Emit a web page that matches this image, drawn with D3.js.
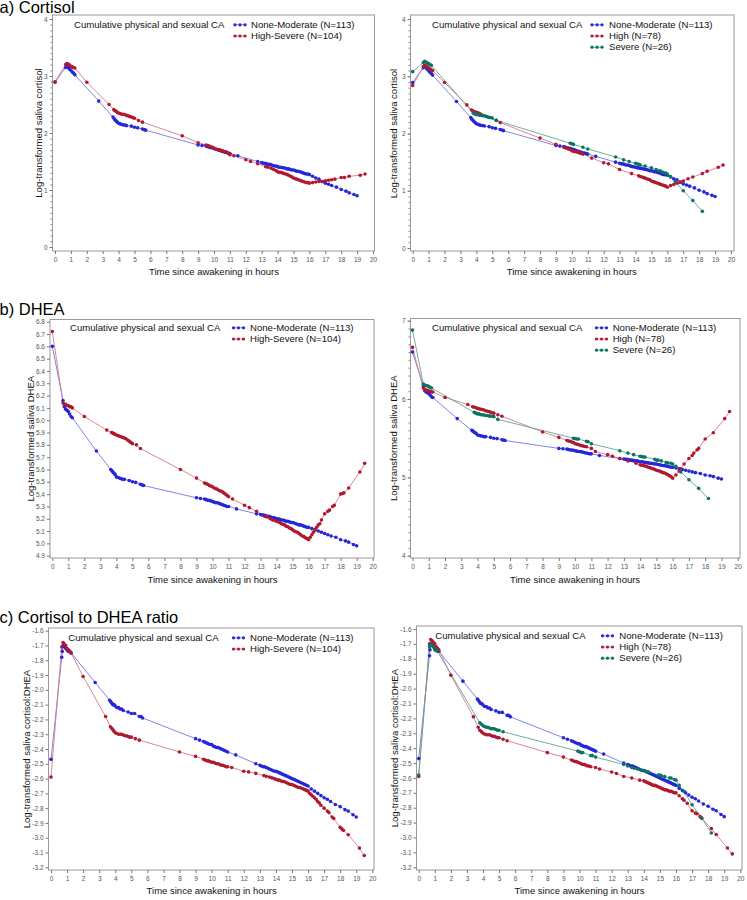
<!DOCTYPE html>
<html><head><meta charset="utf-8">
<script src="https://cdn.jsdelivr.net/npm/d3@7/dist/d3.min.js"></script>
<style>
body{margin:0;background:#fff;}
svg{display:block;font-family:"Liberation Sans",Arial,sans-serif;}
</style></head>
<body><svg id="c" width="747" height="900"></svg>
<script>
// ---------- tick labels ----------
const hourTicks = [0,1,2,3,4,5,6,7,8,9,10,11,12,13,14,15,16,17,18,19,20];
const cortisolTicks = [0,1,2,3,4];
const dheaTicksLeft = [4.9,5.0,5.1,5.2,5.3,5.4,5.5,5.6,5.7,5.8,5.9,6.0,6.1,6.2,6.3,6.4,6.5,6.6,6.7,6.8];
const dheaTicksRight = [4,5,6,7];
const ratioTicks = [-1.6,-1.7,-1.8,-1.9,-2.0,-2.1,-2.2,-2.3,-2.4,-2.5,-2.6,-2.7,-2.8,-2.9,-3.0,-3.1,-3.2];

// ---------- series labels ----------
const groupTitle = "Cumulative physical and sexual CA";
const labelNM = "None-Moderate (N=113)";
const labelHS = "High-Severe (N=104)";
const labelHigh = "High (N=78)";
const labelSevere = "Severe (N=26)";

// ---------- a) Cortisol ----------
const cortisolNM = [[0,2.89],[0.67,3.15],[0.75,3.17],[0.83,3.15],[0.92,3.12],[1.0,3.10],[1.08,3.07],[1.17,3.05],[1.25,3.02],
[2.75,2.56],
[3.65,2.28],[3.72,2.25],[3.78,2.23],[3.85,2.21],[3.92,2.19],[4.0,2.17],[4.1,2.16],[4.2,2.15],[4.3,2.14],[4.4,2.14],[4.5,2.13],[4.8,2.12],[5.0,2.10],[5.2,2.09],[5.5,2.07],[5.6,2.06],[5.7,2.05],
[9.0,1.79],[9.25,1.78],[9.5,1.77],[9.6,1.76],[9.7,1.75],[9.8,1.74],[9.9,1.74],[10.0,1.73],[10.1,1.72],[10.2,1.71],[10.3,1.70],[10.4,1.69],[10.5,1.68],[10.6,1.67],[10.7,1.66],[10.8,1.66],[10.9,1.65],[11.0,1.64],
[11.5,1.60],
[12.75,1.50],[13.0,1.48],[13.1,1.47],[13.2,1.47],[13.3,1.46],[13.4,1.45],[13.5,1.45],[13.6,1.44],[13.7,1.43],[13.8,1.42],[13.9,1.42],[14.0,1.41],[14.1,1.40],[14.2,1.40],[14.3,1.39],[14.4,1.39],[14.5,1.38],[14.6,1.37],[14.7,1.37],[14.8,1.36],[14.9,1.35],[15.0,1.35],[15.1,1.34],[15.2,1.33],[15.3,1.33],[15.4,1.32],[15.5,1.31],[15.6,1.30],[15.7,1.29],[15.8,1.28],[15.9,1.28],[16.0,1.27],
[16.2,1.24],[16.4,1.21],[16.6,1.19],[16.8,1.15],[17.0,1.12],[17.2,1.10],[17.4,1.08],[17.7,1.05],[18.0,1.01],[18.3,0.98],[18.5,0.95],[18.8,0.92],[19.0,0.90]];

const cortisolHS = [[0,2.90],[0.67,3.20],[0.75,3.22],[0.83,3.21],[0.92,3.19],[1.0,3.17],[1.08,3.16],[1.17,3.15],[1.25,3.14],
[2.0,2.89],[3.4,2.50],
[3.7,2.41],[3.78,2.39],[3.85,2.38],[3.92,2.36],[4.0,2.35],[4.1,2.34],[4.2,2.33],[4.3,2.33],[4.4,2.32],[4.5,2.31],[4.6,2.30],[4.7,2.29],[4.8,2.28],[4.9,2.27],[5.0,2.26],[5.25,2.22],[5.5,2.19],
[8.0,1.95],[9.0,1.83],
[9.5,1.79],[9.6,1.78],[9.7,1.77],[9.8,1.76],[9.9,1.75],[10.0,1.73],[10.1,1.72],[10.2,1.71],[10.3,1.70],[10.4,1.70],[10.5,1.69],[10.6,1.68],[10.7,1.67],[10.8,1.66],[10.9,1.64],[11.0,1.62],[11.25,1.60],
[12.0,1.53],[12.3,1.50],[12.75,1.46],
[13.25,1.41],[13.4,1.40],[13.6,1.38],[13.75,1.36],[13.9,1.34],[14.0,1.32],[14.1,1.31],[14.2,1.31],[14.3,1.30],[14.4,1.29],[14.5,1.28],[14.6,1.27],[14.7,1.26],[14.8,1.24],[14.9,1.23],[15.0,1.21],[15.1,1.20],[15.2,1.19],[15.3,1.18],[15.4,1.17],[15.5,1.16],[15.6,1.15],[15.7,1.14],[15.8,1.13],[15.9,1.13],[16.0,1.12],
[16.2,1.13],[16.4,1.14],[16.6,1.15],[16.8,1.15],[17.0,1.16],[17.2,1.17],[17.4,1.18],[17.6,1.19],[18.0,1.22],[18.2,1.22],[18.5,1.24],[19.2,1.26],[19.5,1.28]];

const cortisolHigh = [[0,2.84],[0.67,3.17],[0.75,3.19],[0.83,3.18],[0.92,3.16],[1.0,3.14],[1.08,3.13],[1.17,3.11],[1.25,3.10],
[2.0,2.89],[3.4,2.50],
[3.7,2.41],[3.8,2.39],[3.9,2.38],[4.0,2.37],[4.1,2.36],[4.2,2.35],[4.3,2.33],
[5.25,2.23],[5.5,2.19],
[8.0,1.92],[9.0,1.81],
[9.5,1.76],[9.6,1.75],[9.7,1.74],[9.8,1.73],[9.9,1.72],[10.0,1.70],[10.1,1.69],[10.2,1.68],[10.3,1.68],[10.4,1.67],[10.5,1.66],[10.6,1.65],[10.7,1.64],
[11.25,1.57],[12.0,1.49],[12.3,1.47],[13.0,1.37],[13.75,1.30],
[14.2,1.26],[14.3,1.25],[14.4,1.24],[14.5,1.23],[14.6,1.22],[14.7,1.21],[14.8,1.20],[14.9,1.19],[15.0,1.17],[15.1,1.16],[15.2,1.15],[15.3,1.14],[15.4,1.13],[15.5,1.12],[15.6,1.11],[15.7,1.10],[15.8,1.09],[15.9,1.08],[16.0,1.06],
[16.2,1.09],[16.4,1.11],[16.6,1.13],[16.8,1.15],[17.0,1.17],[17.3,1.21],[17.6,1.24],[18.2,1.30],[18.5,1.34],[19.2,1.41],[19.5,1.45]];

const cortisolSevere = [[0,3.08],[0.67,3.24],[0.75,3.26],[0.83,3.25],[0.92,3.23],[1.0,3.22],[1.08,3.20],[1.17,3.19],
[3.8,2.36],[3.9,2.34],[4.0,2.33],[4.1,2.33],[4.2,2.32],[4.3,2.32],[4.4,2.31],[4.5,2.31],[4.6,2.30],[4.7,2.29],[4.8,2.28],[4.9,2.28],[5.0,2.27],[5.25,2.23],
[9.9,1.83],[10.0,1.82],[10.1,1.81],[10.7,1.76],[11.0,1.73],
[12.75,1.59],[13.25,1.54],[13.6,1.51],[14.0,1.48],[14.1,1.47],[14.2,1.46],[14.3,1.45],[14.6,1.43],[15.0,1.40],[15.3,1.37],[15.5,1.35],[15.6,1.34],[15.75,1.32],[15.9,1.31],[16.0,1.29],[16.2,1.25],
[16.5,1.16],[17.0,1.00],[17.6,0.83],[18.2,0.64]];

// ---------- b) DHEA ----------
const dheaNM = [[0,6.60],[0.67,6.16],[0.75,6.11],[0.83,6.09],[0.92,6.08],[1.0,6.07],[1.08,6.05],[1.17,6.03],[1.25,6.02],
[2.75,5.75],
[3.65,5.60],[3.72,5.59],[3.78,5.58],[3.85,5.57],[3.92,5.56],[4.0,5.54],[4.1,5.535],[4.2,5.53],[4.3,5.525],[4.4,5.52],[4.5,5.52],[4.8,5.51],[5.0,5.50],[5.2,5.495],[5.5,5.48],[5.6,5.475],[5.7,5.47],
[9.0,5.37],[9.25,5.365],[9.5,5.36],[9.6,5.355],[9.7,5.35],[9.8,5.35],[9.9,5.345],[10.0,5.34],[10.1,5.335],[10.2,5.33],[10.3,5.33],[10.4,5.325],[10.5,5.32],[10.6,5.315],[10.7,5.31],[10.8,5.305],[10.9,5.30],[11.0,5.30],
[11.5,5.28],
[12.75,5.24],[13.0,5.235],[13.1,5.23],[13.2,5.23],[13.3,5.225],[13.4,5.22],[13.5,5.22],[13.6,5.215],[13.7,5.21],[13.8,5.21],[13.9,5.205],[14.0,5.20],[14.1,5.20],[14.2,5.195],[14.3,5.19],[14.4,5.19],[14.5,5.185],[14.6,5.18],[14.7,5.18],[14.8,5.175],[14.9,5.17],[15.0,5.17],[15.1,5.165],[15.2,5.16],[15.3,5.155],[15.4,5.15],[15.5,5.15],[15.6,5.145],[15.7,5.14],[15.8,5.135],[15.9,5.13],[16.0,5.13],
[16.2,5.12],[16.4,5.11],[16.6,5.10],[16.8,5.09],[17.0,5.08],[17.2,5.07],[17.4,5.06],[17.7,5.05],[18.0,5.03],[18.3,5.02],[18.5,5.01],[18.8,4.99],[19.0,4.98]];

const dheaHS = [[0,6.72],[0.67,6.14],[0.75,6.13],[0.83,6.13],[0.92,6.12],[1.0,6.12],[1.08,6.11],[1.17,6.11],[1.25,6.10],
[2.0,6.03],[3.4,5.92],
[3.7,5.90],[3.78,5.895],[3.85,5.89],[3.92,5.885],[4.0,5.88],[4.1,5.875],[4.2,5.87],[4.3,5.865],[4.4,5.86],[4.5,5.855],[4.6,5.85],[4.7,5.84],[4.8,5.83],[4.9,5.82],[5.0,5.81],[5.25,5.80],[5.5,5.77],
[8.0,5.60],[9.0,5.53],
[9.5,5.49],[9.6,5.485],[9.7,5.48],[9.8,5.47],[9.9,5.465],[10.0,5.46],[10.1,5.45],[10.2,5.445],[10.3,5.44],[10.4,5.43],[10.5,5.425],[10.6,5.42],[10.7,5.41],[10.8,5.40],[10.9,5.39],[11.0,5.38],[11.25,5.36],
[12.0,5.31],[12.3,5.29],[12.75,5.26],
[13.25,5.22],[13.4,5.215],[13.6,5.20],[13.75,5.19],[13.9,5.185],[14.0,5.18],[14.1,5.175],[14.2,5.17],[14.3,5.16],[14.4,5.155],[14.5,5.15],[14.6,5.14],[14.7,5.135],[14.8,5.125],[14.9,5.12],[15.0,5.11],[15.1,5.10],[15.2,5.095],[15.3,5.09],[15.4,5.08],[15.5,5.07],[15.6,5.06],[15.7,5.055],[15.8,5.045],[15.9,5.04],[16.0,5.03],
[16.1,5.05],[16.2,5.07],[16.3,5.09],[16.4,5.11],[16.5,5.13],[16.6,5.15],[16.7,5.16],[16.8,5.19],[17.0,5.24],[17.2,5.26],[17.3,5.27],[17.5,5.30],[17.6,5.31],[18.0,5.40],[18.1,5.405],[18.2,5.41],[18.5,5.45],[19.2,5.58],[19.5,5.65]];

const dheaHigh = [[0,6.66],[0.67,6.14],[0.75,6.12],[0.83,6.11],[0.92,6.11],[1.0,6.10],[1.08,6.10],[1.17,6.09],[1.25,6.09],
[2.0,6.02],[3.4,5.93],
[3.7,5.90],[3.8,5.895],[3.9,5.89],[4.0,5.88],[4.1,5.875],[4.2,5.87],[4.3,5.865],[4.4,5.86],[4.5,5.85],[4.6,5.845],[4.7,5.84],[4.8,5.83],[4.9,5.825],[5.0,5.82],[5.25,5.80],[5.5,5.78],
[8.0,5.58],[9.0,5.51],
[9.5,5.47],[9.6,5.465],[9.7,5.46],[9.8,5.45],[9.9,5.445],[10.0,5.43],[10.1,5.425],[10.2,5.42],[10.3,5.41],[10.4,5.405],[10.5,5.40],[10.6,5.395],[10.7,5.39],
[11.0,5.37],[11.25,5.33],[12.0,5.29],[12.3,5.27],[12.75,5.24],[13.25,5.21],[13.75,5.18],
[14.0,5.16],[14.1,5.155],[14.2,5.15],[14.3,5.145],[14.4,5.14],[14.5,5.13],[14.6,5.125],[14.7,5.115],[14.8,5.11],[14.9,5.10],[15.0,5.09],[15.1,5.085],[15.2,5.08],[15.3,5.07],[15.4,5.06],[15.5,5.055],[15.6,5.045],[15.7,5.035],[15.8,5.02],[15.9,5.01],[16.0,4.99],
[16.2,5.03],[16.4,5.08],[16.5,5.11],[16.7,5.17],[17.0,5.24],[17.2,5.28],[17.3,5.31],[17.5,5.35],[17.6,5.37],[18.0,5.49],[18.5,5.57],[19.2,5.75],[19.5,5.84]];

const dheaSevere = [[0,6.88],[0.67,6.19],[0.75,6.18],[0.83,6.17],[0.92,6.17],[1.0,6.16],[1.08,6.15],[1.17,6.14],
[3.8,5.83],[3.9,5.82],[4.0,5.81],[4.1,5.81],[4.2,5.80],[4.3,5.80],[4.4,5.795],[4.5,5.79],[4.6,5.79],[4.7,5.785],[4.8,5.78],[4.9,5.78],[5.0,5.775],[5.25,5.74],
[9.9,5.50],[10.0,5.495],[10.1,5.49],[10.2,5.49],[10.7,5.46],[10.8,5.455],[11.0,5.43],
[12.75,5.34],[13.25,5.31],[13.6,5.29],[14.0,5.27],[14.1,5.265],[14.2,5.26],[14.3,5.26],[14.9,5.23],[15.0,5.22],[15.1,5.22],[15.3,5.21],[15.6,5.19],[15.7,5.185],[15.9,5.18],[16.0,5.17],[16.2,5.14],
[16.5,5.07],[17.0,4.97],[17.6,4.86],[18.2,4.73]];

// ---------- c) Cortisol to DHEA ratio ----------
const ratioNM = [[0,-2.47],[0.67,-1.78],[0.7,-1.74],[0.75,-1.70],[0.83,-1.71],[0.92,-1.72],[1.0,-1.73],[1.08,-1.74],[1.17,-1.74],[1.25,-1.75],
[2.75,-1.95],
[3.65,-2.07],[3.72,-2.08],[3.78,-2.09],[3.85,-2.10],[3.92,-2.10],[4.0,-2.11],[4.1,-2.12],[4.2,-2.12],[4.3,-2.13],[4.4,-2.13],[4.5,-2.14],[4.8,-2.15],[5.0,-2.16],[5.2,-2.16],[5.5,-2.18],[5.6,-2.18],[5.7,-2.19],
[9.0,-2.33],[9.25,-2.34],[9.5,-2.35],[9.6,-2.355],[9.7,-2.36],[9.8,-2.365],[9.9,-2.37],[10.0,-2.37],[10.1,-2.38],[10.2,-2.385],[10.3,-2.39],[10.4,-2.39],[10.5,-2.395],[10.6,-2.40],[10.7,-2.405],[10.8,-2.41],[10.9,-2.415],[11.0,-2.42],
[11.5,-2.44],
[12.75,-2.50],[13.0,-2.51],[13.1,-2.515],[13.2,-2.52],[13.3,-2.52],[13.4,-2.525],[13.5,-2.53],[13.6,-2.535],[13.7,-2.54],[13.8,-2.545],[13.9,-2.55],[14.0,-2.55],[14.1,-2.555],[14.2,-2.56],[14.3,-2.565],[14.4,-2.57],[14.5,-2.575],[14.6,-2.58],[14.7,-2.585],[14.8,-2.59],[14.9,-2.595],[15.0,-2.60],[15.1,-2.605],[15.2,-2.61],[15.3,-2.615],[15.4,-2.62],[15.5,-2.625],[15.6,-2.63],[15.7,-2.635],[15.8,-2.64],[15.9,-2.645],[16.0,-2.65],
[16.2,-2.67],[16.4,-2.685],[16.6,-2.70],[16.8,-2.715],[17.0,-2.73],[17.2,-2.74],[17.4,-2.755],[17.7,-2.775],[18.0,-2.79],[18.3,-2.81],[18.5,-2.82],[18.8,-2.845],[19.0,-2.86]];

const ratioHS = [[0,-2.59],[0.67,-1.71],[0.75,-1.68],[0.83,-1.69],[0.92,-1.70],[1.0,-1.72],[1.08,-1.73],[1.17,-1.74],[1.25,-1.75],
[2.0,-1.91],[3.4,-2.18],
[3.7,-2.25],[3.78,-2.26],[3.85,-2.27],[3.92,-2.28],[4.0,-2.29],[4.1,-2.295],[4.2,-2.30],[4.3,-2.30],[4.4,-2.30],[4.5,-2.305],[4.6,-2.31],[4.7,-2.31],[4.8,-2.315],[4.9,-2.32],[5.0,-2.32],[5.25,-2.33],[5.5,-2.34],
[8.0,-2.42],[9.0,-2.45],
[9.5,-2.47],[9.6,-2.475],[9.7,-2.48],[9.8,-2.48],[9.9,-2.485],[10.0,-2.49],[10.1,-2.49],[10.2,-2.495],[10.3,-2.50],[10.4,-2.50],[10.5,-2.505],[10.6,-2.51],[10.7,-2.51],[10.8,-2.515],[10.9,-2.52],[11.0,-2.52],[11.25,-2.525],
[12.0,-2.55],[12.3,-2.555],[12.75,-2.565],
[13.25,-2.58],[13.4,-2.585],[13.6,-2.59],[13.75,-2.595],[13.9,-2.60],[14.0,-2.605],[14.1,-2.61],[14.2,-2.61],[14.3,-2.615],[14.4,-2.62],[14.5,-2.62],[14.6,-2.625],[14.7,-2.63],[14.8,-2.635],[14.9,-2.64],[15.0,-2.64],[15.1,-2.645],[15.2,-2.65],[15.3,-2.655],[15.4,-2.66],[15.5,-2.66],[15.6,-2.665],[15.7,-2.67],[15.8,-2.675],[15.9,-2.68],[16.0,-2.685],
[16.1,-2.70],[16.2,-2.71],[16.3,-2.72],[16.4,-2.73],[16.5,-2.74],[16.6,-2.755],[16.7,-2.765],[16.8,-2.78],[17.0,-2.80],[17.2,-2.82],[17.3,-2.83],[17.5,-2.86],[17.6,-2.87],[18.0,-2.93],[18.1,-2.94],[18.2,-2.95],[18.5,-2.98],[19.2,-3.07],[19.5,-3.12]];

const ratioHigh = [[0,-2.59],[0.67,-1.70],[0.75,-1.67],[0.83,-1.68],[0.92,-1.69],[1.0,-1.70],[1.08,-1.72],[1.17,-1.73],[1.25,-1.74],
[2.0,-1.91],[3.4,-2.19],
[3.7,-2.26],[3.8,-2.28],[3.9,-2.29],[4.0,-2.30],[4.1,-2.305],[4.2,-2.31],[4.3,-2.31],[4.4,-2.31],[4.5,-2.315],[4.6,-2.32],[4.7,-2.32],[4.8,-2.325],[4.9,-2.33],[5.0,-2.33],[5.25,-2.34],[5.5,-2.35],
[8.0,-2.43],[9.0,-2.46],
[9.5,-2.48],[9.6,-2.485],[9.7,-2.49],[9.8,-2.49],[9.9,-2.495],[10.0,-2.50],[10.1,-2.505],[10.2,-2.51],[10.3,-2.51],[10.4,-2.515],[10.5,-2.52],[10.6,-2.52],[10.7,-2.525],
[11.0,-2.53],[11.25,-2.54],[12.0,-2.56],[12.3,-2.57],[12.75,-2.59],[13.25,-2.60],[13.75,-2.615],
[14.0,-2.62],[14.1,-2.625],[14.2,-2.63],[14.3,-2.635],[14.4,-2.64],[14.5,-2.645],[14.6,-2.65],[14.7,-2.65],[14.8,-2.655],[14.9,-2.66],[15.0,-2.665],[15.1,-2.67],[15.2,-2.675],[15.3,-2.68],[15.4,-2.68],[15.5,-2.685],[15.6,-2.69],[15.7,-2.69],[15.8,-2.695],[15.9,-2.70],[16.0,-2.70],
[16.2,-2.72],[16.4,-2.74],[16.5,-2.75],[16.7,-2.77],[17.0,-2.82],[17.2,-2.835],[17.3,-2.84],[17.5,-2.86],[17.6,-2.87],[18.2,-2.94],[18.5,-2.98],[19.2,-3.07],[19.5,-3.11]];

const ratioSevere = [[0,-2.58],[0.67,-1.72],[0.75,-1.70],[0.83,-1.71],[0.92,-1.72],[1.0,-1.74],[1.08,-1.745],[1.17,-1.75],
[3.8,-2.23],[3.9,-2.24],[4.0,-2.25],[4.1,-2.255],[4.2,-2.26],[4.3,-2.26],[4.4,-2.265],[4.5,-2.27],[4.6,-2.27],[4.7,-2.27],[4.8,-2.275],[4.9,-2.28],[5.0,-2.28],[5.25,-2.29],
[9.9,-2.42],[10.0,-2.425],[10.1,-2.43],[10.2,-2.43],[10.7,-2.45],[10.8,-2.45],[11.0,-2.46],
[12.75,-2.51],[13.0,-2.52],[13.25,-2.53],[13.4,-2.535],[13.6,-2.54],[13.8,-2.545],[14.0,-2.55],[14.1,-2.555],[14.2,-2.56],[14.3,-2.56],[14.9,-2.58],[15.0,-2.58],[15.1,-2.585],[15.3,-2.59],[15.6,-2.60],[15.7,-2.60],[15.9,-2.61],[16.0,-2.615],[16.2,-2.65],
[16.5,-2.69],[17.0,-2.78],[17.6,-2.87],[18.2,-2.97]];

// ---------- styles ----------
const BLUE = {dot:"#2626d9", line:"#7676e6"};
const RED = {dot:"#b0192f", line:"#d77a86"};
const GREEN = {dot:"#0d7461", line:"#5fa595"};
const FONT = '"Liberation Sans", Arial, sans-serif';

const svg = d3.select("#c");

// panel titles
const titles = [["a) Cortisol", 12.5], ["b) DHEA", 314.5], ["c) Cortisol to DHEA ratio", 622.5]];
svg.selectAll("text.ptitle").data(titles).join("text").attr("class","ptitle")
  .attr("x", -0.5).attr("y", d => d[1]).attr("font-size", 16.5).attr("fill", "#000").text(d => d[0]);

function panel(cfg) {
  const g = svg.append("g");
  const f = cfg.frame;
  const x = d3.scaleLinear().domain([0, 20]).range(cfg.xr);
  const y = d3.scaleLinear().domain(cfg.yd).range(cfg.yr);

  // frame
  g.append("rect").attr("x", f[0]).attr("y", f[1]).attr("width", f[2] - f[0]).attr("height", f[3] - f[1])
    .attr("fill", "none").attr("stroke", "#9a9a9a").attr("stroke-width", 1);

  // x axis
  const xa = g.append("g").attr("transform", `translate(0,${f[3]})`)
    .call(d3.axisBottom(x).tickValues(hourTicks).tickSize(3).tickSizeOuter(0).tickPadding(3).tickFormat(d => String(d)));
  xa.select(".domain").remove();
  xa.selectAll("line").attr("stroke", "#777");
  xa.selectAll("text").attr("font-size", 6.5).attr("fill", "#555").attr("font-family", FONT);

  // y axis
  if (cfg.minor) {
    const mg = g.append("g").attr("transform", `translate(${f[0]},0)`)
      .call(d3.axisLeft(y).tickValues(cfg.minor).tickSize(2).tickSizeOuter(0).tickFormat(""));
    mg.select(".domain").remove();
    mg.selectAll("line").attr("stroke", "#888");
  }
  const ya = g.append("g").attr("transform", `translate(${f[0]},0)`)
    .call(d3.axisLeft(y).tickValues(cfg.yTicks).tickSize(3).tickSizeOuter(0).tickPadding(2).tickFormat(cfg.fmt));
  ya.select(".domain").remove();
  ya.selectAll("line").attr("stroke", "#777");
  ya.selectAll("text").attr("font-size", 6.5).attr("fill", "#555").attr("font-family", FONT);

  // axis titles
  g.append("text").attr("x", (cfg.xr[0] + cfg.xr[1]) / 2).attr("y", cfg.xlabY).attr("text-anchor", "middle")
    .attr("font-size", 9.5).attr("fill", "#111").text("Time since awakening in hours");
  g.append("text").attr("transform", `translate(${cfg.ylabX},${(cfg.yr[0] + cfg.yr[1]) / 2}) rotate(-90)`)
    .attr("text-anchor", "middle").attr("font-size", 9.5).attr("fill", "#111").text(cfg.ylab);

  // series
  const line = d3.line().x(d => x(d[0])).y(d => y(d[1]));
  cfg.series.forEach(s => {
    g.append("path").datum(s.data).attr("d", line).attr("fill", "none")
      .attr("stroke", s.color.line).attr("stroke-width", 0.9);
  });
  cfg.series.forEach(s => {
    g.append("g").selectAll("circle").data(s.data).join("circle")
      .attr("cx", d => x(d[0])).attr("cy", d => y(d[1])).attr("r", 1.8).attr("fill", s.color.dot);
  });

  // legend
  g.append("text").attr("x", cfg.lg.titleX).attr("y", cfg.lg.y).attr("font-size", 9.6).attr("fill", "#111").text(groupTitle);
  cfg.series.forEach((s, i) => {
    const yy = cfg.lg.y + i * 11.2;
    const lg = g.append("g");
    lg.append("line").attr("x1", cfg.lg.markX).attr("x2", cfg.lg.markX + 13).attr("y1", yy - 3.2).attr("y2", yy - 3.2)
      .attr("stroke", s.color.line).attr("stroke-width", 0.9);
    [1.5, 6.5, 11.5].forEach(dx => lg.append("circle").attr("cx", cfg.lg.markX + dx).attr("cy", yy - 3.2).attr("r", 1.6).attr("fill", s.color.dot));
    lg.append("text").attr("x", cfg.lg.textX).attr("y", yy).attr("font-size", 9.6).attr("fill", "#111").text(s.label);
  });
}

const f1 = d => String(d);
const f2 = d => d.toFixed(1);
const cortMinor = d3.range(0, 4.0001, 0.1);
const dheaMinor = d3.range(4, 7.0001, 0.1);

panel({frame:[52.5,15,374.5,251], xr:[55,373], yd:[0,4], yr:[247,19], yTicks:cortisolTicks, minor:cortMinor, fmt:f1,
  ylab:"Log-transformed saliva cortisol", ylabX:41.5, xlabY:275,
  lg:{titleX:74, y:28, markX:233.5, textX:251},
  series:[{data:cortisolNM,color:BLUE,label:labelNM},{data:cortisolHS,color:RED,label:labelHS}]});
panel({frame:[410.5,15,734,251], xr:[412.7,731], yd:[0,4], yr:[248,19], yTicks:cortisolTicks, minor:cortMinor, fmt:f1,
  ylab:"Log-transformed saliva cortisol", ylabX:397, xlabY:275,
  lg:{titleX:432, y:28, markX:590.5, textX:609},
  series:[{data:cortisolNM,color:BLUE,label:labelNM},{data:cortisolHigh,color:RED,label:labelHigh},{data:cortisolSevere,color:GREEN,label:labelSevere}]});
panel({frame:[50,319.5,374,558], xr:[52.3,372.7], yd:[4.9,6.8], yr:[555.7,321.7], yTicks:dheaTicksLeft, minor:null, fmt:f2,
  ylab:"Log-transformed saliva DHEA", ylabX:33.5, xlabY:583,
  lg:{titleX:70, y:331, markX:232, textX:250},
  series:[{data:dheaNM,color:BLUE,label:labelNM},{data:dheaHS,color:RED,label:labelHS}]});
panel({frame:[410.5,318.5,740,558], xr:[412.5,737.7], yd:[4,7], yr:[555.7,320.7], yTicks:dheaTicksRight, minor:dheaMinor, fmt:f1,
  ylab:"Log-transformed saliva DHEA", ylabX:397, xlabY:583,
  lg:{titleX:432, y:331, markX:595, textX:612.7},
  series:[{data:dheaNM,color:BLUE,label:labelNM},{data:dheaHigh,color:RED,label:labelHigh},{data:dheaSevere,color:GREEN,label:labelSevere}]});
panel({frame:[48.5,628,374,870], xr:[51,372.3], yd:[-3.2,-1.6], yr:[867.3,630.7], yTicks:ratioTicks, minor:null, fmt:f2,
  ylab:"Log-transformed saliva cortisol:DHEA", ylabX:29.5, xlabY:894,
  lg:{titleX:68.3, y:641, markX:232, textX:250},
  series:[{data:ratioNM,color:BLUE,label:labelNM},{data:ratioHS,color:RED,label:labelHS}]});
panel({frame:[416.5,626,742,870], xr:[418.7,740.3], yd:[-3.2,-1.6], yr:[867.3,629], yTicks:ratioTicks, minor:null, fmt:f2,
  ylab:"Log-transformed saliva cortisol:DHEA", ylabX:397.5, xlabY:894,
  lg:{titleX:435.3, y:639, markX:601, textX:619.3},
  series:[{data:ratioNM,color:BLUE,label:labelNM},{data:ratioHigh,color:RED,label:labelHigh},{data:ratioSevere,color:GREEN,label:labelSevere}]});
</script>
</body></html>
